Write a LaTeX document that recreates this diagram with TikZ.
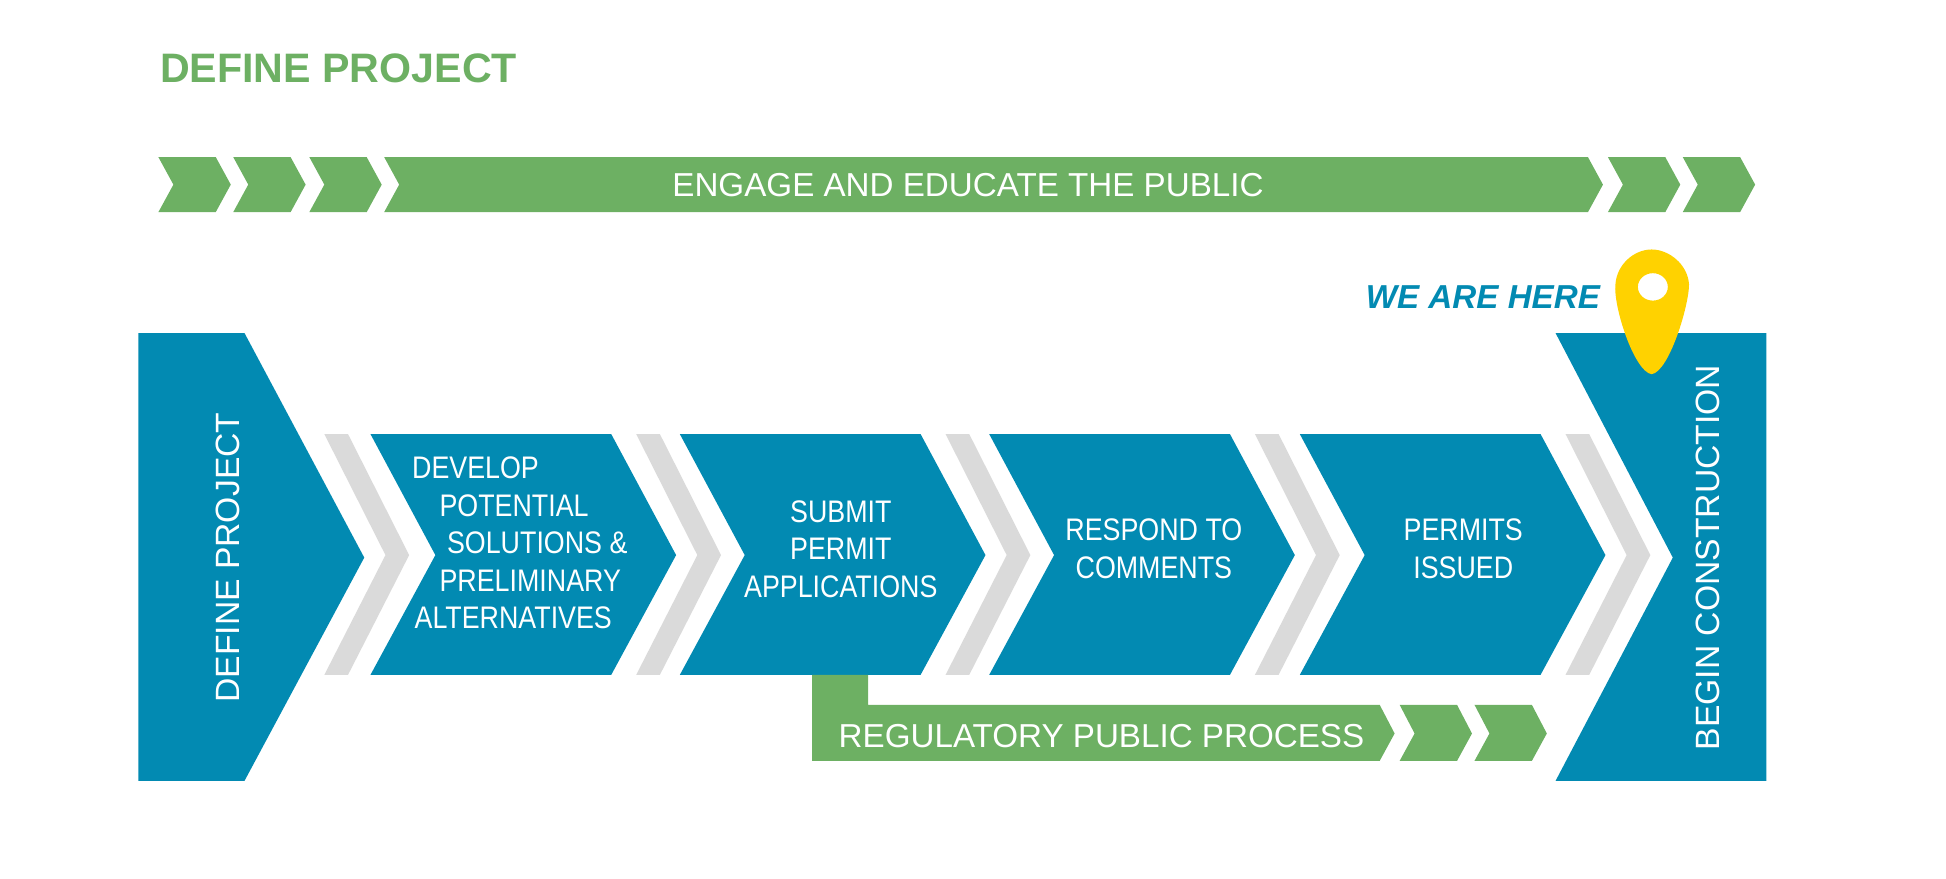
\documentclass[tikz,border=0pt]{standalone}
\usepackage{fontspec}
\setmainfont{Liberation Sans}
\newfontfamily\narrowf[FakeStretch=0.86]{Liberation Sans}
\definecolor{pblue}{HTML}{028AB2}
\definecolor{pgreen}{HTML}{6DB063}
\definecolor{pgray}{HTML}{DADADA}
\definecolor{pyellow}{HTML}{FFD200}
\tikzset{
  bluebox/.style={fill=pblue,draw=none},
  greenbox/.style={fill=pgreen,draw=none},
  graybox/.style={fill=pgray,draw=none},
  wtxt/.style={text=white,font=\narrowf\fontsize{12.5}{16}\selectfont,align=center,inner sep=0pt},
  vtxt/.style={text=white,font=\fontsize{13.5}{16}\selectfont,rotate=90,inner sep=0pt},
}
\begin{document}
\begin{tikzpicture}[x=0.5pt,y=-0.5pt]
\useasboundingbox (0,0) rectangle (1560,704);
% title
\node[anchor=west,text=pgreen,font=\bfseries\fontsize{16.5}{18}\selectfont,inner sep=0pt] (title) at (128,55) {DEFINE PROJECT};
% top band
\foreach \a in {127,187,248,1289,1349}{
  \fill[greenbox] (\a,126) -- (\a+46,126) -- (\a+58,148) -- (\a+46,170) -- (\a,170) -- (\a+12,148) -- cycle;}
\fill[greenbox] (308,126) -- (1273,126) -- (1285,148) -- (1273,170) -- (308,170) -- (320,148) -- cycle;
\node[text=white,font=\fontsize{13.3}{15}\selectfont,inner sep=0pt] (engage) at (776,148) {ENGAGE AND EDUCATE THE PUBLIC};
% define project block
\fill[bluebox] (111,267) -- (196,267) -- (292,447) -- (196,626) -- (111,626) -- cycle;
\node[vtxt] (dp) at (183,447) {DEFINE PROJECT};
% gray chevrons
\foreach \a in {260,510,758,1006,1255}{
  \fill[graybox] (\a,348) -- (\a+19,348) -- (\a+68,445) -- (\a+19,541) -- (\a,541) -- (\a+49,445) -- cycle;}
% blue chevrons
\foreach \a in {297,545,793,1042}{
  \fill[bluebox] (\a,348) -- (\a+193,348) -- (\a+245,445) -- (\a+193,541) -- (\a,541) -- (\a+52,445) -- cycle;}
\node[wtxt,align=left,anchor=north west] (s1) at (330,366) {DEVELOP\\[-1pt]\hspace{11pt}POTENTIAL\\[-1pt]\hspace{14pt}SOLUTIONS \&\\[-1pt]\hspace{11pt}PRELIMINARY\\[-1pt]\hspace{1pt}ALTERNATIVES};
\node[wtxt] (s2) at (674,440) {SUBMIT\\[-1pt]PERMIT\\[-1pt]APPLICATIONS};
\node[wtxt] (s3) at (925,440) {RESPOND TO\\[-1pt]COMMENTS};
\node[wtxt] (s4) at (1173,440) {PERMITS\\[-1pt]ISSUED};
% begin construction
\fill[bluebox] (1247,267) -- (1416,267) -- (1416,626) -- (1247,626) -- (1341,447) -- cycle;
\node[vtxt] (bc) at (1369,447) {BEGIN CONSTRUCTION};
% regulatory
\fill[greenbox] (651,541) -- (696,541) -- (696,565) -- (1106,565) -- (1118,588) -- (1106,610) -- (651,610) -- cycle;
\foreach \a in {1122,1182}{
  \fill[greenbox] (\a,565) -- (\a+46,565) -- (\a+58,588) -- (\a+46,610) -- (\a,610) -- (\a+12,588) -- cycle;}
\node[text=white,font=\fontsize{13.3}{15}\selectfont,inner sep=0pt] (reg) at (883,590) {REGULATORY PUBLIC PROCESS};
% we are here
\node[anchor=east,text=pblue,font=\bfseries\itshape\fontsize{13.3}{15}\selectfont,inner sep=0pt] (weh) at (1283,238) {WE ARE HERE};
\fill[pyellow,even odd rule] (1324,300) .. controls (1310,298) and (1293,245) .. (1295,228)
  .. controls (1296,212) and (1310,200) .. (1324,200)
  .. controls (1338,200) and (1353,212) .. (1354,228)
  .. controls (1354,245) and (1338,298) .. (1324,300) -- cycle
  (1325,230) ellipse [x radius=12, y radius=11];
\end{tikzpicture}
\end{document}
